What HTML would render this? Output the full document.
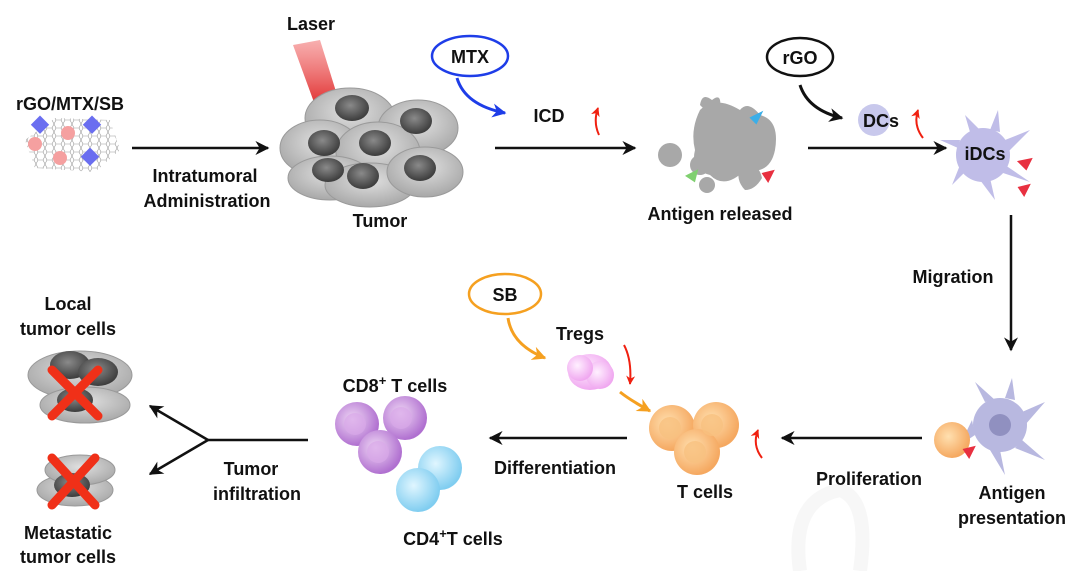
<!DOCTYPE html>
<html><head><meta charset="utf-8"><style>
html,body{margin:0;padding:0;background:#fff;width:1076px;height:571px;overflow:hidden}
svg{display:block}
text{font-family:"Liberation Sans",Arial,sans-serif;font-weight:bold;font-size:18px;fill:#111;text-anchor:middle}
</style></head><body>
<svg width="1076" height="571" viewBox="0 0 1076 571" xmlns="http://www.w3.org/2000/svg">
<defs>
<marker id="ah" viewBox="0 0 10 10" refX="9" refY="5" markerWidth="14" markerHeight="14" orient="auto" markerUnits="userSpaceOnUse"><path d="M0,0 L10,5 L0,10 L3,5z" fill="#111"/></marker>
<marker id="ahb" viewBox="0 0 10 10" refX="9" refY="5" markerWidth="14" markerHeight="14" orient="auto" markerUnits="userSpaceOnUse"><path d="M0,0 L10,5 L0,10 L3,5z" fill="#1e3de8"/></marker>
<marker id="aho" viewBox="0 0 10 10" refX="9" refY="5" markerWidth="14" markerHeight="14" orient="auto" markerUnits="userSpaceOnUse"><path d="M0,0 L10,5 L0,10 L3,5z" fill="#f5a020"/></marker>
<marker id="ahr" viewBox="0 0 10 10" refX="9" refY="5" markerWidth="9" markerHeight="9" orient="auto" markerUnits="userSpaceOnUse"><path d="M0,0 L10,5 L0,10 L3,5z" fill="#f02010"/></marker>
<radialGradient id="gc" cx="50%" cy="40%" r="60%"><stop offset="0" stop-color="#e0e0e0"/><stop offset="1" stop-color="#a8a8a8"/></radialGradient>
<radialGradient id="gn" cx="45%" cy="40%" r="60%"><stop offset="0" stop-color="#8a8a8a"/><stop offset="1" stop-color="#3c3c3c"/></radialGradient>
<radialGradient id="go" cx="40%" cy="40%" r="60%"><stop offset="0" stop-color="#ffe0b0"/><stop offset="1" stop-color="#f5a860"/></radialGradient>
<radialGradient id="gp" cx="40%" cy="40%" r="60%"><stop offset="0" stop-color="#f0d8f5"/><stop offset="1" stop-color="#b070d0"/></radialGradient>
<radialGradient id="gb" cx="40%" cy="40%" r="60%"><stop offset="0" stop-color="#e0f6ff"/><stop offset="1" stop-color="#80cdf0"/></radialGradient>
<radialGradient id="gk" cx="40%" cy="40%" r="60%"><stop offset="0" stop-color="#fff0ff"/><stop offset="1" stop-color="#f0a8f0"/></radialGradient>
<linearGradient id="gl" x1="0" y1="0" x2="0" y2="1"><stop offset="0" stop-color="#f06060" stop-opacity=".5"/><stop offset="1" stop-color="#e03030"/></linearGradient>
<pattern id="hex" width="9" height="8" patternUnits="userSpaceOnUse"><path d="M0,4 L2,0 L7,0 L9,4 L7,8 L2,8z" fill="none" stroke="#999" stroke-width=".6"/></pattern>
</defs>

<path d="M800,571 Q790,500 840,490 Q870,500 860,571" fill="none" stroke="#f7f7f7" stroke-width="14"/>

<text x="70" y="110">rGO/MTX/SB</text>
<path d="M25,140 L55,118 L110,120 L120,150 L95,172 L35,168z" fill="url(#hex)"/>
<rect x="34" y="118" width="13" height="13" fill="#6a6ef0" transform="rotate(45 40 124)"/>
<rect x="86" y="118" width="13" height="13" fill="#6a6ef0" transform="rotate(45 92 124)"/>
<rect x="84" y="150" width="13" height="13" fill="#6a6ef0" transform="rotate(45 90 156)"/>
<circle cx="35" cy="144" r="7" fill="#f5a0a0"/><circle cx="68" cy="133" r="7" fill="#f5a0a0"/><circle cx="60" cy="158" r="7" fill="#f5a0a0"/>

<line x1="132" y1="148" x2="268" y2="148" stroke="#111" stroke-width="2.5" marker-end="url(#ah)"/>
<text x="205" y="182">Intratumoral</text>
<text x="207" y="207">Administration</text>

<text x="311" y="30">Laser</text>
<path d="M293,45 L320,40 L338,98 L315,105z" fill="url(#gl)"/>

<g stroke="#9a9a9a" stroke-width="1">
<ellipse cx="350" cy="118" rx="45" ry="30" fill="url(#gc)"/>
<ellipse cx="418" cy="128" rx="40" ry="28" fill="url(#gc)"/>
<ellipse cx="320" cy="148" rx="40" ry="28" fill="url(#gc)"/>
<ellipse cx="378" cy="152" rx="42" ry="30" fill="url(#gc)"/>
<ellipse cx="330" cy="178" rx="42" ry="22" fill="url(#gc)"/>
<ellipse cx="370" cy="185" rx="45" ry="22" fill="url(#gc)"/>
<ellipse cx="425" cy="172" rx="38" ry="25" fill="url(#gc)"/>
</g>
<ellipse cx="352" cy="108" rx="17" ry="13" fill="url(#gn)"/>
<ellipse cx="416" cy="121" rx="16" ry="13" fill="url(#gn)"/>
<ellipse cx="324" cy="143" rx="16" ry="13" fill="url(#gn)"/>
<ellipse cx="375" cy="143" rx="16" ry="13" fill="url(#gn)"/>
<ellipse cx="328" cy="170" rx="16" ry="12" fill="url(#gn)"/>
<ellipse cx="363" cy="176" rx="16" ry="13" fill="url(#gn)"/>
<ellipse cx="420" cy="168" rx="16" ry="13" fill="url(#gn)"/>
<text x="380" y="227">Tumor</text>

<ellipse cx="470" cy="56" rx="38" ry="20" fill="#fff" stroke="#1e3de8" stroke-width="2.5"/>
<text x="470" y="63">MTX</text>
<path d="M457,78 Q465,105 505,113" fill="none" stroke="#1e3de8" stroke-width="3" marker-end="url(#ahb)"/>
<text x="549" y="122">ICD</text>
<path d="M599,135 Q593,122 598,108" fill="none" stroke="#f02010" stroke-width="2" marker-end="url(#ahr)"/>
<line x1="495" y1="148" x2="635" y2="148" stroke="#111" stroke-width="2.5" marker-end="url(#ah)"/>

<g fill="#a8a8a8">
<path d="M700,110 Q715,95 740,110 Q748,100 760,115 Q780,120 775,150 Q770,175 745,170 Q725,190 710,175 Q690,170 695,150 Q690,130 700,110z"/>
<path d="M700,105 Q702,92 712,100 Q722,92 720,108 Q712,118 700,105z"/>
<circle cx="670" cy="155" r="12"/><circle cx="700" cy="165" r="10"/><circle cx="707" cy="185" r="8"/>
<path d="M740,165 Q758,160 762,178 Q755,190 745,190 Q735,180 740,165z"/>
</g>
<path d="M752,118 L760,114 L756,122z" fill="#3aaee8" stroke="#3aaee8" stroke-width="3"/>
<path d="M688,176 L696,172 L694,180z" fill="#80d070" stroke="#80d070" stroke-width="3"/>
<path d="M764,174 L772,172 L768,180z" fill="#e83040" stroke="#e83040" stroke-width="3"/>
<text x="720" y="220">Antigen released</text>

<ellipse cx="800" cy="57" rx="33" ry="19" fill="#fff" stroke="#111" stroke-width="2.5"/>
<text x="800" y="64">rGO</text>
<path d="M800,85 Q808,110 842,118" fill="none" stroke="#111" stroke-width="3" marker-end="url(#ah)"/>
<circle cx="874" cy="120" r="16" fill="#c8c8ec"/>
<text x="881" y="127">DCs</text>
<path d="M923,138 Q913,125 918,110" fill="none" stroke="#f02010" stroke-width="2" marker-end="url(#ahr)"/>
<line x1="808" y1="148" x2="946" y2="148" stroke="#111" stroke-width="2.5" marker-end="url(#ah)"/>

<g fill="#c0bde8">
<circle cx="983" cy="155" r="27"/>
<path d="M970,132 L965,115 L980,130z M990,130 L998,110 L1000,132z M1005,140 L1030,130 L1008,152z M1005,165 L1030,182 L1000,172z M990,178 L995,200 L980,180z M965,172 L952,185 L960,165z M958,148 L940,140 L960,140z"/>
</g>
<path d="M1020,162 L1030,160 L1026,168z" fill="#e83040" stroke="#e83040" stroke-width="3"/>
<path d="M1020,188 L1028,186 L1024,194z" fill="#e83040" stroke="#e83040" stroke-width="3"/>
<text x="985" y="160">iDCs</text>

<line x1="1011" y1="215" x2="1011" y2="350" stroke="#111" stroke-width="2.5" marker-end="url(#ah)"/>
<text x="953" y="283">Migration</text>

<g fill="#b8b8e0">
<circle cx="1000" cy="425" r="27"/>
<path d="M985,402 L975,382 L995,400z M1005,398 L1012,378 L1015,400z M1022,412 L1045,402 L1025,425z M1022,440 L1045,460 L1015,448z M1000,450 L1005,475 L990,450z M975,435 L960,445 L972,420z"/>
</g>
<circle cx="1000" cy="425" r="11" fill="#9090c0"/>
<circle cx="952" cy="440" r="18" fill="url(#go)"/>
<path d="M965,450 L973,448 L969,456z" fill="#e83040" stroke="#e83040" stroke-width="3"/>
<text x="1012" y="499">Antigen</text>
<text x="1012" y="524">presentation</text>

<line x1="922" y1="438" x2="782" y2="438" stroke="#111" stroke-width="2.5" marker-end="url(#ah)"/>
<text x="869" y="485">Proliferation</text>

<circle cx="672" cy="428" r="23" fill="url(#go)"/>
<circle cx="716" cy="425" r="23" fill="url(#go)"/>
<circle cx="697" cy="452" r="23" fill="url(#go)"/>
<circle cx="670" cy="428" r="11" fill="#f8c080" opacity=".8"/>
<circle cx="712" cy="425" r="11" fill="#f8c080" opacity=".8"/>
<circle cx="695" cy="452" r="11" fill="#f8c080" opacity=".8"/>
<text x="705" y="498">T cells</text>
<path d="M762,458 Q752,445 758,430" fill="none" stroke="#f02010" stroke-width="2" marker-end="url(#ahr)"/>

<ellipse cx="505" cy="294" rx="36" ry="20" fill="#fff" stroke="#f5a020" stroke-width="2.5"/>
<text x="505" y="301">SB</text>
<path d="M508,318 Q512,345 545,358" fill="none" stroke="#f5a020" stroke-width="3" marker-end="url(#aho)"/>
<text x="580" y="340">Tregs</text>
<ellipse cx="590" cy="372" rx="22" ry="18" fill="url(#gk)"/>
<circle cx="600" cy="375" r="14" fill="url(#gk)"/>
<circle cx="580" cy="368" r="13" fill="url(#gk)"/>
<path d="M624,345 Q632,360 630,384" fill="none" stroke="#f02010" stroke-width="2" marker-end="url(#ahr)"/>
<path d="M620,392 Q630,400 650,411" fill="none" stroke="#f5a020" stroke-width="3" marker-end="url(#aho)"/>

<line x1="627" y1="438" x2="490" y2="438" stroke="#111" stroke-width="2.5" marker-end="url(#ah)"/>
<text x="555" y="474">Differentiation</text>

<text x="395" y="392">CD8<tspan dy="-7" font-size="13">+</tspan><tspan dy="7"> T cells</tspan></text>
<circle cx="357" cy="424" r="22" fill="url(#gp)"/>
<circle cx="405" cy="418" r="22" fill="url(#gp)"/>
<circle cx="380" cy="452" r="22" fill="url(#gp)"/>
<circle cx="355" cy="424" r="11" fill="#d8a8e8" opacity=".7"/>
<circle cx="401" cy="418" r="11" fill="#d8a8e8" opacity=".7"/>
<circle cx="378" cy="452" r="11" fill="#d8a8e8" opacity=".7"/>
<circle cx="440" cy="468" r="22" fill="url(#gb)"/>
<circle cx="418" cy="490" r="22" fill="url(#gb)"/>
<text x="453" y="545">CD4<tspan dy="-7" font-size="13">+</tspan><tspan dy="7">T cells</tspan></text>

<line x1="308" y1="440" x2="208" y2="440" stroke="#111" stroke-width="2.5"/>
<line x1="208" y1="440" x2="150" y2="406" stroke="#111" stroke-width="2.5" marker-end="url(#ah)"/>
<line x1="208" y1="440" x2="150" y2="474" stroke="#111" stroke-width="2.5" marker-end="url(#ah)"/>
<text x="251" y="475">Tumor</text>
<text x="257" y="500">infiltration</text>

<text x="68" y="310">Local</text>
<text x="68" y="335">tumor cells</text>
<g stroke="#999" stroke-width="1">
<ellipse cx="80" cy="375" rx="52" ry="24" fill="url(#gc)"/>
<ellipse cx="85" cy="405" rx="45" ry="18" fill="url(#gc)"/>
<ellipse cx="75" cy="490" rx="38" ry="16" fill="url(#gc)"/>
<ellipse cx="80" cy="470" rx="35" ry="15" fill="url(#gc)"/>
</g>
<ellipse cx="70" cy="365" rx="20" ry="14" fill="url(#gn)"/>
<ellipse cx="98" cy="372" rx="20" ry="14" fill="url(#gn)"/>
<ellipse cx="75" cy="400" rx="18" ry="12" fill="url(#gn)"/>
<ellipse cx="72" cy="485" rx="18" ry="12" fill="url(#gn)"/>
<g stroke="#f03018" stroke-width="9" stroke-linecap="round">
<line x1="52" y1="370" x2="98" y2="416"/><line x1="98" y1="370" x2="52" y2="416"/>
<line x1="52" y1="458" x2="95" y2="505"/><line x1="95" y1="458" x2="52" y2="505"/>
</g>
<text x="68" y="539">Metastatic</text>
<text x="68" y="563">tumor cells</text>
</svg>
</body></html>
